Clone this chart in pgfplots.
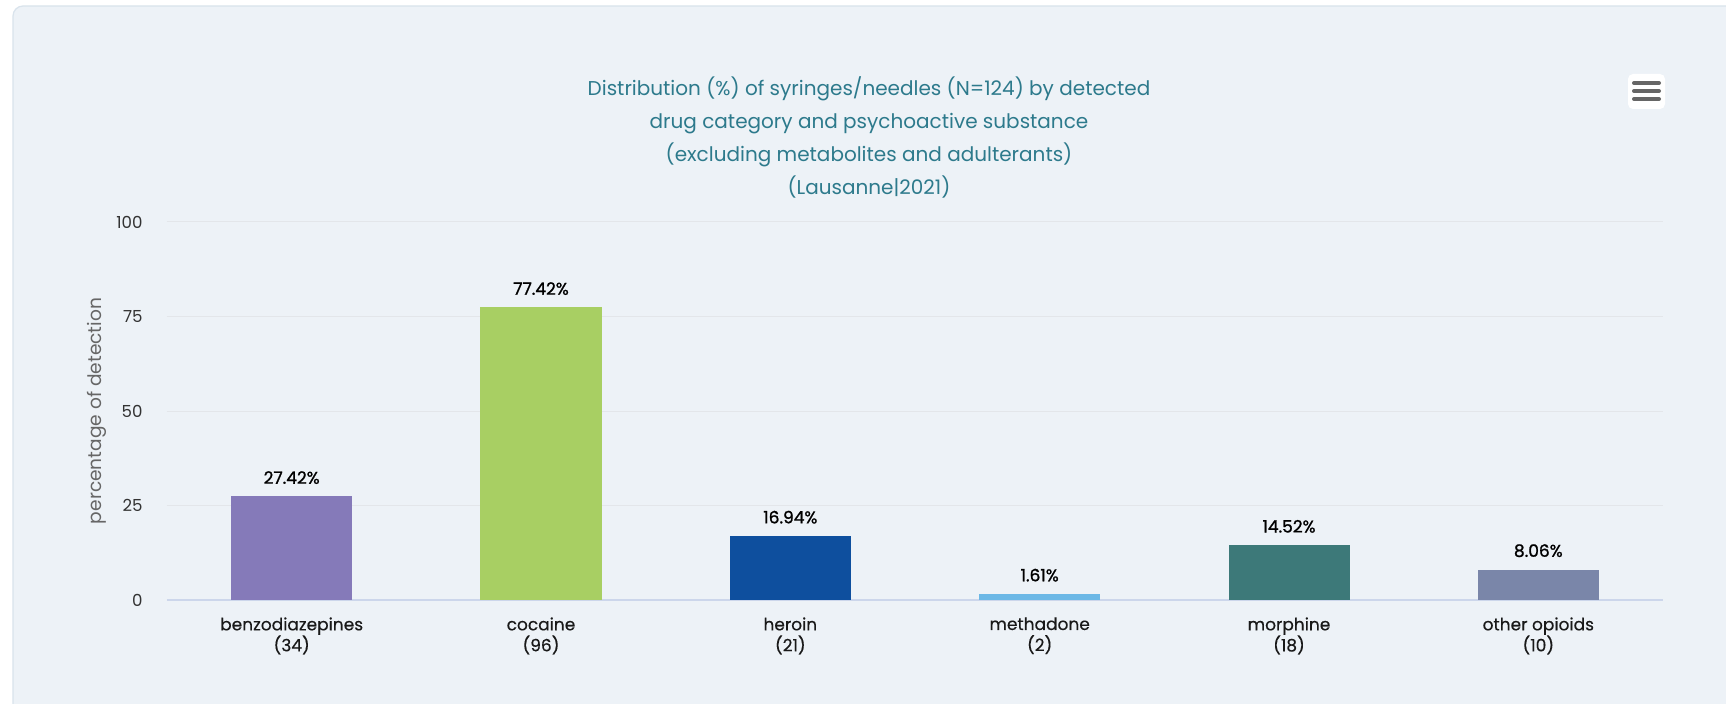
\documentclass[border=0pt]{standalone}
\usepackage{pgfplots}
\pgfplotsset{compat=1.18}
\usepackage{fontspec}
\setmainfont{Poppins}
\newfontfamily\medfont{Poppins}[FakeBold=1.2]
\newfontfamily\lblfont{Poppins}[FakeBold=0.3]
\definecolor{panelbg}{HTML}{EDF2F7}
\definecolor{panelborder}{HTML}{D9E3EC}
\definecolor{titlecol}{HTML}{2D7A8C}
\definecolor{gridcol}{HTML}{E3E6EA}
\definecolor{axiscol}{HTML}{CCD6EB}
\definecolor{cBenzo}{HTML}{857AB9}
\definecolor{cCoca}{HTML}{A8CF63}
\definecolor{cHero}{HTML}{0E4F9E}
\definecolor{cMeth}{HTML}{6CB8E6}
\definecolor{cMorph}{HTML}{3D7979}
\definecolor{cOther}{HTML}{7A86A9}
\begin{document}
\begin{tikzpicture}
\begin{scope}[x=0.5pt,y=0.5pt]
% px coordinates, y measured from bottom (H=703)
\useasboundingbox (0,0) rectangle (1726,703);
\fill[white] (0,0) rectangle (1726,703);
\draw[panelborder, fill=panelbg, line width=0.6pt, rounded corners=5pt] (13,-20) rectangle (1746,697);
% title
\node[align=center, text=titlecol, font=\fontsize{10pt}{16.5pt}\selectfont] at (869,566)
 {Distribution (\%) of syringes/needles (N=124) by detected\\
  drug category and psychoactive substance\\
  (excluding metabolites and adulterants)\\
  (Lausanne|2021)};
% menu button
\fill[white, rounded corners=2.5pt] (1628,594) rectangle (1665,629);
\draw[line width=2pt, color=black!60, line cap=round] (1634,620) -- (1659,620);
\draw[line width=2pt, color=black!60, line cap=round] (1634,612) -- (1659,612);
\draw[line width=2pt, color=black!60, line cap=round] (1634,604) -- (1659,604);
\end{scope}
\begin{axis}[
  at={(83.5pt,51.5pt)}, anchor=south west,
  scale only axis, width=748pt, height=189pt,
  xmin=-0.5, xmax=5.5, ymin=0, ymax=100,
  ybar, bar width=60.5pt, bar shift=0pt,
  xtick={0,1,2,3,4,5},
  xticklabels={{benzodiazepines\\(34)},{cocaine\\(96)},{heroin\\(21)},{methadone\\(2)},{morphine\\(18)},{other opioids\\(10)}},
  ytick={0,25,50,75,100},
  /pgf/number format/assume math mode=true,
  ymajorgrids, grid style={gridcol, line width=0.5pt},
  axis x line*=bottom, axis y line*=left,
  x axis line style={axiscol, line width=0.6pt, -},
  y axis line style={draw=none},
  major tick length=0pt,
  xticklabel style={anchor=north, inner sep=0pt, yshift=-8.5pt, align=center,
     font=\lblfont\fontsize{8.5pt}{10.5pt}\selectfont, text=black!90},
  yticklabel style={anchor=east, inner sep=0pt, xshift=-12pt,
     font=\fontsize{8.3pt}{9pt}\selectfont, text=black!80},
  ylabel={percentage of detection},
  every axis y label/.style={at={(rel axis cs:-0.0468,0.5)}, rotate=90, anchor=center,
     font=\fontsize{9.3pt}{10pt}\selectfont, text=black!60},
  nodes near coords={\pgfmathprintnumber[fixed,precision=2,fixed zerofill]{\pgfplotspointmeta}\%},
  every node near coord/.append style={anchor=south, inner sep=0pt, yshift=6pt,
     font=\medfont\fontsize{8.5pt}{9pt}\selectfont, text=black},
]
\addplot[fill=cBenzo, draw=none] coordinates {(0,27.42)};
\addplot[fill=cCoca, draw=none] coordinates {(1,77.42)};
\addplot[fill=cHero, draw=none] coordinates {(2,16.94)};
\addplot[fill=cMeth, draw=none] coordinates {(3,1.61)};
\addplot[fill=cMorph, draw=none] coordinates {(4,14.52)};
\addplot[fill=cOther, draw=none] coordinates {(5,8.06)};
\end{axis}
\end{tikzpicture}
\end{document}
